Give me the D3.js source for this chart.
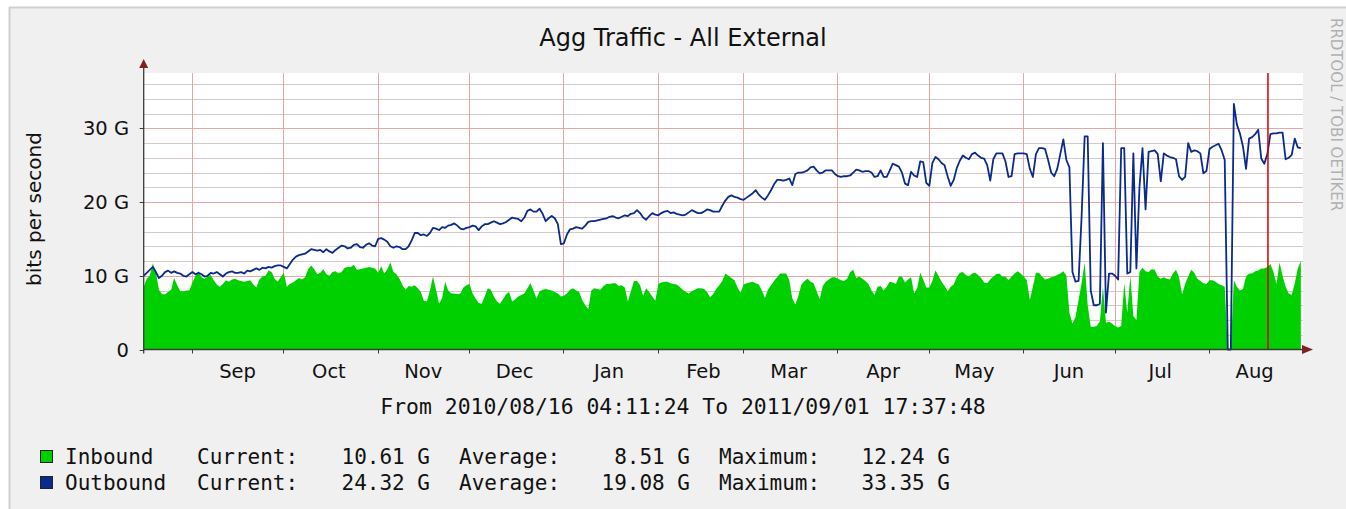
<!DOCTYPE html>
<html><head><meta charset="utf-8">
<script src="https://cdn.jsdelivr.net/npm/d3@7"></script>
<style>body{margin:0;background:#fff}svg{display:block}</style>
</head><body>
<svg id="c" width="1346" height="509"></svg>
<script>
// ---------------- data ----------------
const chartTitle = "Agg Traffic - All External";
const yAxisTitle = "bits per second";
const watermark = "RRDTOOL / TOBI OETIKER";
const startTime = "2010-08-16T04:11:24Z";
const endTime = "2011-09-01T17:37:48Z";
const vruleTime = "2011-08-20T09:00:00Z";
const rangeText = "From 2010/08/16 04:11:24 To 2011/09/01 17:37:48";
const stepDays = 1;

const monthLabels = ["Sep","Oct","Nov","Dec","Jan","Feb","Mar","Apr","May","Jun","Jul","Aug"];
const yTickValues = [0, 10, 20, 30];
const yTickLabels = ["0", "10 G", "20 G", "30 G"];
const yMax = 37.5;

// daily averages, Gbit/s
const inbound = [
8.5,9.6,10.0,11.7,10.4,8.1,7.5,7.5,7.8,8.1,
9.7,8.7,7.9,7.9,8.0,8.0,9.1,10.0,10.6,9.8,
9.6,9.9,10.1,9.4,8.8,8.5,8.9,9.4,9.2,9.5,
9.6,9.4,9.3,9.2,9.3,9.4,8.8,8.4,9.5,9.9,
10.0,10.7,10.5,9.6,9.2,9.8,10.4,8.5,8.9,9.1,
9.4,9.7,9.5,9.8,10.9,11.4,10.9,10.2,10.4,10.9,
10.2,10.0,10.5,10.6,10.3,10.5,11.1,11.2,11.2,11.5,
10.8,10.9,11.0,11.1,11.2,11.1,11.0,
10.4,11.3,10.3,
10.9,11.8,10.5,10.2,9.6,8.7,8.1,8.6,8.5,8.7,
8.3,7.8,6.6,6.5,8.0,9.9,8.1,6.2,7.0,9.2,
8.0,7.6,7.6,7.5,7.6,8.4,8.7,8.9,7.6,6.9,
6.3,6.2,7.2,8.3,8.1,7.2,6.5,6.2,6.8,7.5,
7.8,6.5,6.8,7.2,7.4,7.6,8.3,9.0,8.0,6.9,
7.9,8.1,8.2,8.1,8.0,7.8,7.6,7.2,7.3,7.6,
8.1,8.3,8.0,7.8,6.7,6.0,5.5,8.0,8.3,8.2,
8.1,8.6,8.9,
8.9,9.0,9.0,8.6,8.7,8.4,6.5,
7.9,9.3,9.3,8.7,7.3,8.3,7.8,7.2,6.6,8.9,
9.1,9.2,9.2,9.0,8.9,8.8,8.5,8.1,7.8,7.6,
7.9,8.1,8.3,8.3,8.2,7.8,7.1,7.5,8.2,8.7,
9.3,10.3,10.0,9.7,9.4,8.4,7.7,8.8,9.0,9.1,
9.2,9.0,8.8,8.0,7.0,8.1,8.7,9.3,9.8,10.3,
10.3,10.3,9.4,6.9,6.1,7.3,8.8,9.3,9.6,9.2,
9.0,7.9,6.8,8.6,9.2,9.5,9.8,9.8,9.6,
9.4,9.3,9.6,10.5,10.8,9.7,9.9,9.6,9.3,8.9,8.0,
7.4,8.5,8.6,8.0,8.5,9.2,9.1,8.9,9.9,9.9,
9.1,9.5,9.8,7.6,8.3,10.4,9.5,8.4,8.4,9.3,
10.7,10.0,9.2,8.6,7.9,8.5,8.8,9.8,10.4,10.5,
10.1,9.9,10.3,10.4,10.1,9.7,9.1,9.0,9.5,9.9,
10.2,10.3,9.9,9.9,9.4,9.9,10.3,10.6,10.3,9.9,
9.4,6.7,8.5,10.4,10.4,9.9,9.5,9.6,9.8,9.9,
10.1,10.3,10.6,10.0,5.0,
3.5,4.4,6.7,9.0,11.8,
6.0,3.1,3.1,3.2,3.8,8.5,3.6,3.8,3.5,3.2,
3.0,3.2,9.0,5.0,10.0,4.5,4.0,10.5,11.1,10.6,
10.5,10.9,10.8,9.9,9.6,9.8,9.6,9.5,10.3,10.8,
9.8,7.5,8.9,9.9,10.8,10.4,9.6,9.3,9.0,8.9,
9.4,9.4,9.2,8.9,8.7,8.5,0,0,9.4,8.5,
8.0,8.2,9.9,10.3,10.3,10.6,10.7,11.0,11.0,11.2,
11.6,10.5,8.9,11.8,10.0,8.5,7.6,7.4,9.0,11.0,12.0
];
const outbound = [
10.0,10.4,10.8,11.2,10.5,9.7,10.0,10.5,10.7,10.4,
10.6,10.4,10.3,10.0,9.9,10.2,10.5,10.2,10.4,10.2,
9.9,10.0,10.4,10.3,10.5,10.2,9.9,10.3,10.5,10.6,
10.4,10.4,10.5,10.3,10.7,10.6,10.8,11.0,10.8,11.1,
11.0,11.2,11.1,11.3,11.4,11.4,11.2,11.0,11.6,12.2,
12.6,12.8,12.9,13.0,13.3,13.6,13.5,13.4,13.5,13.2,
13.6,13.3,13.1,13.5,13.8,14.1,14.0,13.7,13.8,14.2,
14.3,13.9,13.8,14.2,14.4,14.1,14.0,
15.0,15.1,14.9,
14.6,14.0,13.8,14.0,13.9,13.6,13.6,14.0,14.8,15.8,
15.8,15.5,15.6,15.4,15.8,16.5,16.4,16.2,16.6,16.5,
16.8,16.9,17.1,16.8,16.4,16.3,16.5,16.6,16.8,16.7,
16.2,16.7,17.0,17.0,17.2,17.4,17.2,17.0,17.1,17.3,
17.6,17.9,17.8,17.7,17.4,17.9,18.8,19.0,18.7,18.7,
19.1,18.4,17.4,17.8,18.1,17.8,17.0,14.3,14.4,15.6,
16.3,16.4,16.6,16.5,16.4,16.8,17.3,17.4,17.4,17.5,
17.6,17.7,17.8,
18.0,18.1,17.9,17.8,18.0,18.2,18.1,
18.4,18.5,18.9,18.5,17.9,17.6,18.1,18.5,18.3,18.2,
18.5,18.7,18.8,18.5,18.6,18.4,18.3,18.2,18.3,18.6,
18.9,18.7,18.5,18.5,18.7,19.0,18.9,18.7,18.7,18.7,
19.5,20.2,20.7,20.9,20.7,20.6,20.4,20.3,20.6,20.9,
21.2,21.6,21.0,20.6,20.3,20.9,21.6,22.4,23.0,23.0,
22.9,23.0,23.2,22.3,23.8,24.0,24.0,24.1,24.3,24.7,
24.8,24.3,23.9,24.0,24.3,24.3,24.3,23.8,23.5,
23.4,23.5,23.5,23.6,24.0,24.4,24.3,24.1,24.2,24.2,24.0,
23.4,23.5,24.3,23.4,23.4,24.3,25.2,25.0,24.8,24.0,
22.5,22.3,24.1,23.6,23.4,25.5,25.4,22.6,22.2,25.3,
26.1,25.8,25.3,25.0,23.5,22.2,23.0,24.6,25.6,26.3,
26.0,25.8,26.5,26.7,26.3,26.0,25.9,25.0,22.9,25.8,
26.6,26.6,26.6,25.5,23.4,23.5,26.5,26.6,26.6,26.6,
26.5,24.5,23.4,26.5,27.3,27.3,27.2,25.7,24.0,23.5,
24.5,26.5,28.5,25.7,24.7,
10.5,9.2,9.3,18.0,28.9,
28.9,8.0,6.0,6.0,6.2,28.0,5.0,10.3,10.3,10.0,
9.5,27.3,27.3,10.3,10.5,26.6,11.0,22.0,27.3,19.0,
26.8,26.9,27.0,26.5,22.8,26.6,26.3,26.1,26.0,25.8,
23.5,23.0,23.4,28.0,26.8,27.0,26.9,26.6,23.9,24.2,
27.2,27.5,27.7,27.9,27.0,25.7,0,0,33.3,30.5,
29.3,27.5,24.5,28.6,28.8,29.2,29.8,25.9,25.2,26.5,
29.2,29.3,29.3,29.4,29.4,25.8,26.0,26.4,28.6,27.4,27.3
];

const legendNames = ["Inbound", "Outbound"];
const legendColors = ["#00cf00", "#0a2a8c"];
const legendCurrent = ["10.61 G", "24.32 G"];
const legendAverage = ["8.51 G", "19.08 G"];
const legendMaximum = ["12.24 G", "33.35 G"];
const statLabels = ["Current:", "Average:", "Maximum:"];

// ---------------- layout ----------------
const svg = d3.select("#c");
const W = 1346, H = 509;
const plot = {left: 143.7, right: 1305.6, top: 73, bottom: 349.5};
const sans = "'DejaVu Sans', Verdana, sans-serif";
const mono = "'DejaVu Sans Mono', monospace";

const t0 = d3.isoParse(startTime), t1 = d3.isoParse(endTime);
const x = d3.scaleUtc().domain([t0, t1]).range([plot.left, plot.right]);
const y = d3.scaleLinear().domain([0, yMax]).range([plot.bottom, plot.top]);
const canvasRight = Math.round(x(d3.utcMonth.floor(t1)));

const dayMs = 86400000 * stepDays;
const series = inbound.map((v, i) => ({t: new Date(+t0 + i * dayMs), inb: v, out: outbound[i]}));

// background frame
svg.append("rect").attr("x", 0).attr("y", 0).attr("width", W).attr("height", H).attr("fill", "#ffffff");
svg.append("rect").attr("x", 9).attr("y", 7).attr("width", W - 9).attr("height", H - 7).attr("fill", "#f0f0f0");
svg.append("line").attr("x1", 9).attr("x2", W).attr("y1", 7.5).attr("y2", 7.5).attr("stroke", "#cfcfcf").attr("stroke-width", 2);
svg.append("line").attr("x1", 9.5).attr("x2", 9.5).attr("y1", 7).attr("y2", H).attr("stroke", "#cfcfcf").attr("stroke-width", 2);

// canvas
svg.append("rect").attr("x", plot.left).attr("y", plot.top)
  .attr("width", canvasRight - plot.left).attr("height", plot.bottom - plot.top).attr("fill", "#ffffff");

// grid
const g = svg.append("g");
const minorY = d3.range(2, yMax, 2).filter(v => v % 10 !== 0);
g.selectAll(".minor").data(minorY).join("line")
  .attr("x1", plot.left).attr("x2", canvasRight)
  .attr("y1", d => Math.round(y(d)) + 0.5).attr("y2", d => Math.round(y(d)) + 0.5)
  .attr("stroke", "#d6c9c9").attr("stroke-width", 1);
g.selectAll(".major").data(yTickValues.filter(v => v > 0)).join("line")
  .attr("x1", plot.left).attr("x2", canvasRight)
  .attr("y1", d => Math.round(y(d)) + 0.5).attr("y2", d => Math.round(y(d)) + 0.5)
  .attr("stroke", "#e8a6a6").attr("stroke-width", 1);
const months = d3.utcMonths(t0, t1).filter(m => x(m) < canvasRight - 2);
g.selectAll(".vgrid").data(months).join("line")
  .attr("x1", d => Math.round(x(d)) + 0.5).attr("x2", d => Math.round(x(d)) + 0.5)
  .attr("y1", plot.top).attr("y2", plot.bottom)
  .attr("stroke", "#e8a6a6").attr("stroke-width", 1);

// data
const area = d3.area().x(d => x(d.t)).y0(y(0)).y1(d => y(d.inb));
svg.append("path").datum(series).attr("d", area).attr("fill", "#00cf00");
const line = d3.line().x(d => x(d.t)).y(d => y(d.out));
svg.append("path").datum(series).attr("d", line).attr("fill", "none")
  .attr("stroke", "#0a2a8c").attr("stroke-width", 1.8).attr("stroke-linejoin", "round");

// vrule
const vr = d3.isoParse(vruleTime);
svg.append("line").attr("x1", x(vr)).attr("x2", x(vr)).attr("y1", plot.top).attr("y2", plot.bottom)
  .attr("stroke", "#d40000").attr("stroke-width", 1.5);

// axes
const axisCol = "#3a3a3a", arrowCol = "#802020";
svg.append("line").attr("x1", plot.left).attr("x2", 1303).attr("y1", plot.bottom).attr("y2", plot.bottom)
  .attr("stroke", axisCol).attr("stroke-width", 1.3);
svg.append("line").attr("x1", plot.left).attr("x2", plot.left).attr("y1", plot.bottom + 4).attr("y2", 67)
  .attr("stroke", axisCol).attr("stroke-width", 1.3);
svg.append("path").attr("d", `M${plot.left - 4.5},68 L${plot.left},59 L${plot.left + 4.5},68 Z`).attr("fill", arrowCol);
svg.append("path").attr("d", `M1302,${plot.bottom - 4.5} L1313,${plot.bottom} L1302,${plot.bottom + 4.5} Z`).attr("fill", arrowCol);

// ticks
svg.selectAll(".xt").data(months).join("line")
  .attr("x1", d => Math.round(x(d)) + 0.5).attr("x2", d => Math.round(x(d)) + 0.5)
  .attr("y1", plot.bottom).attr("y2", plot.bottom + 4).attr("stroke", axisCol);
svg.selectAll(".yt").data(yTickValues).join("line")
  .attr("x1", plot.left - 4).attr("x2", plot.left)
  .attr("y1", d => Math.round(y(d)) + 0.5).attr("y2", d => Math.round(y(d)) + 0.5).attr("stroke", axisCol);

// labels
svg.selectAll(".yl").data(yTickValues).join("text")
  .attr("x", 129).attr("y", d => y(d) + 7).attr("text-anchor", "end")
  .attr("font-family", sans).attr("font-size", 19.5).attr("fill", "#111")
  .text((d, i) => yTickLabels[i]);
svg.selectAll(".xl").data(months).join("text")
  .attr("x", d => x(d3.utcDay.offset(d, 15))).attr("y", 378).attr("text-anchor", "middle")
  .attr("font-family", sans).attr("font-size", 19.5).attr("fill", "#111")
  .text((d, i) => monthLabels[i]);

svg.append("text").attr("x", 683).attr("y", 46).attr("text-anchor", "middle")
  .attr("font-family", sans).attr("font-size", 24).attr("fill", "#111").text(chartTitle);
svg.append("text").attr("transform", "translate(41,209) rotate(-90)").attr("text-anchor", "middle")
  .attr("font-family", sans).attr("font-size", 20).attr("fill", "#111").text(yAxisTitle);
svg.append("text").attr("transform", "translate(1331,18) rotate(90)").attr("text-anchor", "start")
  .attr("font-family", sans).attr("font-size", 15).attr("fill", "#b0b0b0").text(watermark);

svg.append("text").attr("x", 683).attr("y", 414).attr("text-anchor", "middle")
  .attr("font-family", mono).attr("font-size", 21.4).attr("fill", "#111").text(rangeText);

// legend
const rowsY = [457, 483];
legendNames.forEach((name, i) => {
  const yy = rowsY[i];
  svg.append("rect").attr("x", 40.5).attr("y", yy - 6.5).attr("width", 12).attr("height", 12)
    .attr("fill", legendColors[i]).attr("stroke", "#222").attr("stroke-width", 1);
  const txt = (xx, s, anchor) => svg.append("text").attr("x", xx).attr("y", yy + 7)
    .attr("text-anchor", anchor).attr("font-family", mono).attr("font-size", 21).attr("fill", "#111").text(s);
  txt(65, name, "start");
  txt(197, statLabels[0], "start");
  txt(430, legendCurrent[i], "end");
  txt(459, statLabels[1], "start");
  txt(690, legendAverage[i], "end");
  txt(719, statLabels[2], "start");
  txt(950, legendMaximum[i], "end");
});
</script>
</body></html>
